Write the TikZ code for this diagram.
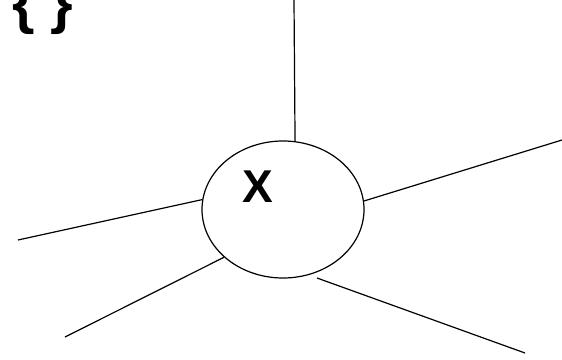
\documentclass[tikz,border=0pt]{standalone}
\usepackage{fontspec}
\setmainfont{Liberation Sans}
\usetikzlibrary{shapes.geometric}
\tikzset{
  conn/.style={line width=1.2pt, black},
  bubble/.style={ellipse, draw, line width=1.2pt, minimum width=162pt, minimum height=137pt, inner sep=0pt},
}
\begin{document}
\begin{tikzpicture}[x=1pt,y=-1pt]
\clip (0,0) rectangle (562,359);
\fill[white] (0,0) rectangle (562,359);
\node[bubble] (e) at (283,209.5) {};
\node[font=\fontsize{46}{46}\selectfont\bfseries, inner sep=0pt] (x) at (258,187) {X};
\node[font=\fontsize{58}{58}\selectfont\bfseries, inner sep=0pt, anchor=base west] (br) at (12,22) {\{ \}};
\coordinate (t) at (294,0);
\coordinate (r) at (562,140);
\coordinate (l) at (18,240);
\coordinate (ll) at (65,337);
\coordinate (lrs) at (317,278);
\coordinate (lre) at (525,353);
\draw[conn] (e.80.9) -- (t);
\draw[conn] (e.6.7) -- (r);
\draw[conn] (e.173.3) -- (l);
\draw[conn] (e.219.9) -- (ll);
\draw[conn] (lrs) -- (lre);
\end{tikzpicture}
\end{document}
